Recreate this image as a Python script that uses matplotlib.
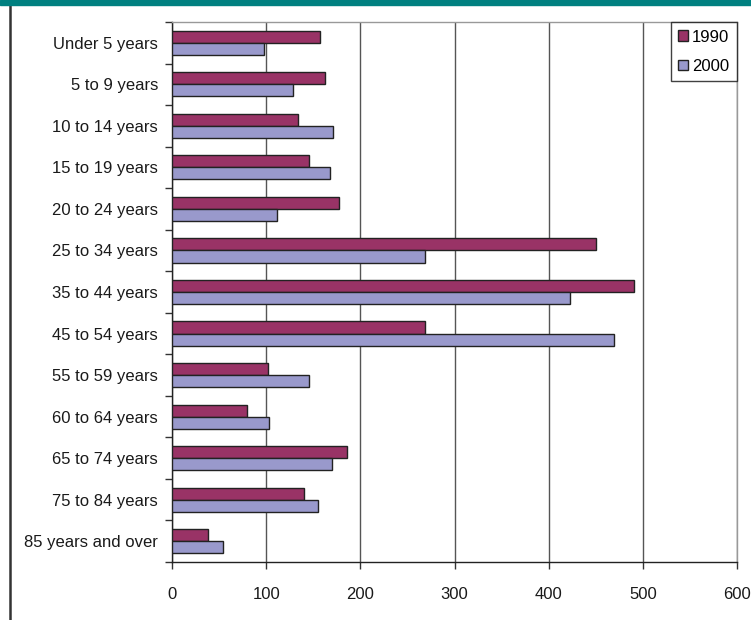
import matplotlib
matplotlib.use("Agg")
import matplotlib.pyplot as plt
from matplotlib import font_manager
import numpy as np

categories = ["Under 5 years", "5 to 9 years", "10 to 14 years", "15 to 19 years",
              "20 to 24 years", "25 to 34 years", "35 to 44 years", "45 to 54 years",
              "55 to 59 years", "60 to 64 years", "65 to 74 years", "75 to 84 years",
              "85 years and over"]
values_1990 = [157, 162, 134, 146, 177, 450, 491, 269, 102, 80, 186, 140, 38]
values_2000 = [98, 129, 171, 168, 111, 269, 423, 469, 145, 103, 170, 155, 54]
series_labels = ["1990", "2000"]
x_ticks = [0, 100, 200, 300, 400, 500, 600]

fam = ["Liberation Sans", "DejaVu Sans"]
fs = 12
plt.rcParams["font.family"] = fam

fig = plt.figure(figsize=(7.51, 6.2), dpi=100)
ax = fig.add_axes([172/751, 1-562/620, (737-172)/751, (562-22)/620])

y = np.arange(len(categories))
h = 0.29
c1990 = "#993366"
c2000 = "#9999CC"
ax.barh(y - h/2, values_1990, height=h, color=c1990, edgecolor="#222222", linewidth=1.0,
        label=series_labels[0], zorder=3)
ax.barh(y + h/2, values_2000, height=h, color=c2000, edgecolor="#222222", linewidth=1.0,
        label=series_labels[1], zorder=3)

ax.set_xlim(0, 600)
ax.set_ylim(len(categories) - 0.5, -0.5)
ax.set_xticks(x_ticks)
ax.set_xticklabels([str(v) for v in x_ticks])
ax.set_yticks(y)
ax.set_yticklabels(categories)
ax.set_yticks(np.arange(len(categories) + 1) - 0.5, minor=True)
ax.tick_params(axis="y", which="major", length=0, pad=10, labelsize=fs, labelcolor="#1a1a1a")
ax.tick_params(axis="y", which="minor", length=5, width=1, color="#333333")
ax.tick_params(axis="x", which="major", length=5, width=1, color="#333333", pad=13,
               labelsize=fs, labelcolor="#1a1a1a")

ax.grid(axis="x", color="#555555", linewidth=1.0, zorder=0)
ax.set_axisbelow(True)
for s in ["top", "right"]:
    ax.spines[s].set_color("#999999")
    ax.spines[s].set_linewidth(1.0)
for s in ["left", "bottom"]:
    ax.spines[s].set_color("#222222")
    ax.spines[s].set_linewidth(1.0)

leg = ax.legend(loc="upper right", borderaxespad=0.0, frameon=True, fancybox=False,
                fontsize=fs, handlelength=0.6, handleheight=0.6, handletextpad=0.25,
                borderpad=0.45, labelspacing=0.85)
leg.get_frame().set_edgecolor("#111111")
leg.get_frame().set_linewidth(1.0)
for patch in leg.get_patches():
    patch.set_edgecolor("#222222")

# header band and left border line
fig.patches.append(plt.Rectangle((0, 1-5/620), 1, 5/620, transform=fig.transFigure,
                                 color="#008080", zorder=5))
fig.lines.append(plt.Line2D([9.5/751, 9.5/751], [0, 1-5/620], transform=fig.transFigure,
                            color="#333333", linewidth=1.8))

fig.savefig("out.png", dpi=100)
